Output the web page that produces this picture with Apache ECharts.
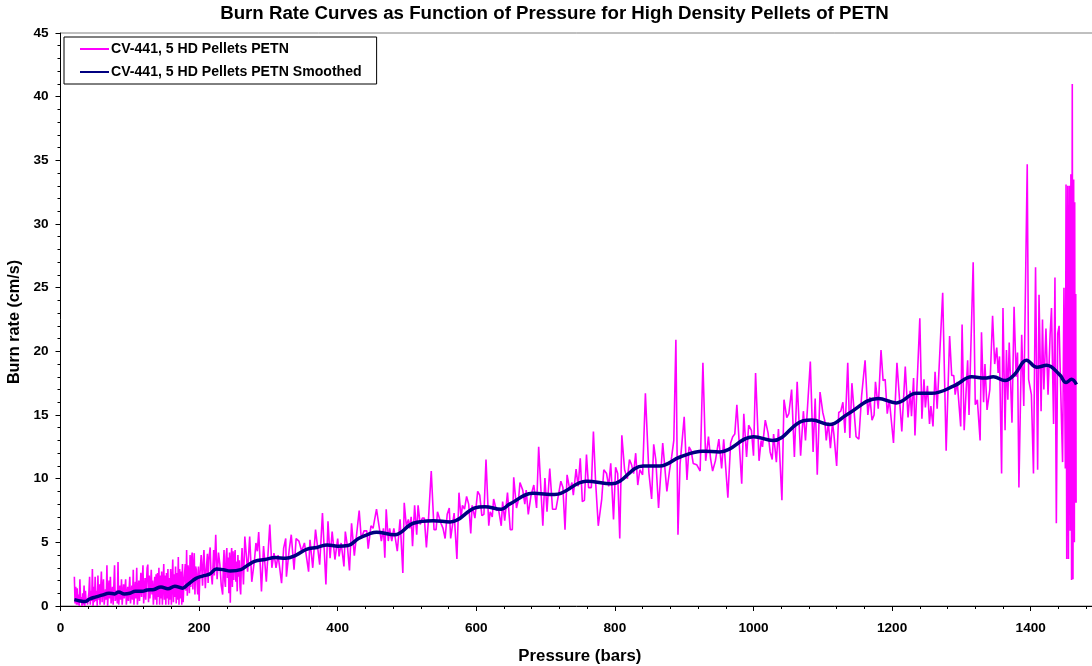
<!DOCTYPE html>
<html><head><meta charset="utf-8">
<style>html,body{margin:0;padding:0;background:#fff;overflow:hidden}#c{width:1092px;height:666px}</style>
<script src="https://cdn.jsdelivr.net/npm/echarts@6/dist/echarts.min.js"></script>
</head><body><div id="c"></div>
<script>
const chartTitle = "Burn Rate Curves as Function of Pressure for High Density Pellets of PETN";
const seriesNames = ["CV-441, 5 HD Pellets PETN", "CV-441, 5 HD Pellets PETN Smoothed"];
const rawDense = [[20,2.3],[21,.2],[22,1.5],[23,.1],[24,1.4],[25,.1],[26,.9],[27,0],[28,2.1],[29,.3],[30,.7],[31,0],[32,1],[33,.1],[34,1.6],[35,0],[36,1.2],[37,.3],[38,.6],[39,.1],[41,1.1],[42,2.3],[43,.1],[44,1.2],[45,.4],[46,2.9],[47,0],[48,1.5],[49,.3],[50,2.3],[51,.4],[52,1.2],[53,0],[54,2.4],[55,.5],[56,1.7],[57,.1],[59,2.7],[60,.3],[61,1.4],[62,2.1],[63,.1],[65,1.3],[66,.5],[67,3.2],[68,0],[70,2],[71,.6],[72,2.3],[73,.2],[75,1.5],[76,.1],[78,3.2],[79,.4],[81,1.2],[82,.2],[83,3.45],[84,.1],[86,1.6],[87,.5],[88,2.1],[89,.1],[91,1.7],[92,.6],[94,2.1],[95,.1],[97,1.5],[98,.4],[100,2.3],[101,.2],[103,1.6],[104,.5],[105,2.85],[106,.1],[108,1.9],[109,.6],[110,3],[111,.1],[113,2],[114,.4],[116,2.6],[117,.7],[119,3.2],[120,.2],[122,2.2],[123,.5],[125,3],[126,3.25],[127,.3],[128,2.4],[129,.6],[131,2.85],[132,.9],[133,2],[134,.1],[136,2.3],[137,.5],[138,2.5],[139,.1],[140,2.6],[141,.7],[142,3],[143,.1],[144,2.4],[145,.6],[146,2.7],[147,.1],[149,3.3],[150,.5],[151,2.4],[152,.1],[153,2.6],[154,.6],[155,2.9],[156,.1],[157,2.2],[158,.5],[159,2.9],[160,.1],[162,3.65],[163,.3],[164,2.5],[165,.7],[166,3.1],[167,.2],[168,2.6],[169,.5],[170,3.85],[171,.1],[172,2.9],[173,.6],[174,2.7],[175,.1],[176,3.3],[177,.3]];
const rawLow = [[178,1.7],[180,3.3],[181,1.2],[182,4.4],[183,.8],[184,3.2],[185,2.6],[186,1],[187,4],[188,1.5],[189,3.6],[190,4.2],[191,1.3],[192,3],[193,4.15],[194,.9],[195,3.1],[196,2.85],[198,.9],[199,3.1],[200,.4],[201,2.3],[203,4],[205,1.6],[206,3.4],[207,4.4],[209,1.4],[210,2.6],[212,4.1],[213,1.8],[214,3.6],[216,4.6],[217,2.85],[219,1.7],[221,4.4],[222,2.4],[224,5.6],[226,2.1],[228,4.2],[230,3.25],[232,1.6],[234,.9],[235,3.2],[236,4.4],[237,2],[238,1.5],[239,3.9],[240,4.55],[241,2.2],[242,3.8],[243,1],[244,4.2],[245,.25],[246,3.5],[247,4.55],[248,1.5],[249,4.3],[250,2.05],[251,3.8],[252,4.4],[253,1.9],[254,3.5],[255,1.15],[256,4],[257,2.3],[258,3.6],[259,1.5],[260,.9],[261,3.4],[262,4.55],[264,1.7],[266,5.45],[270,2.7],[273,5.45],[276,1.9],[280,3.65],[282,4.95],[284,4.3],[286,5.8],[290,1.15],[293,4.7],[297,1.9],[302,6.4],[305,3],[308,4.15],[311,3],[314,4],[319,1.8],[322,4.55],[325,5.3],[326,2.3],[330,4.4],[333,5.6],[337,2.85],[340,5.3],[344,5.1],[348,4.3],[352,4.95],[358,2.7],[360,5.2],[364,3],[368,6],[374,3.25],[378,7.3],[383,1.7],[386,6.65],[389,3.75],[392,5.85],[396,3.65],[400,5.3],[402,3.9],[405,4.95],[409,3.1],[411,5.85],[414,4.7],[417,2.8],[420,6.5],[424,3.95],[431,7.5]];
const rawMid = [[434,5.3],[438,5.9],[442,5.9],[444,4.5],[448,6.3],[451,6.1],[456,7.6],[459,6.5],[463,5.1],[466,6.1],[468,3.8],[470,7.6],[473,5.1],[475,6.1],[478,5.1],[481,6.1],[486,4.3],[490,6.8],[492,6.8],[494,2.6],[496,8.1],[499,6.3],[502,6.8],[504,6.1],[506,7],[508,4.7],[511,7.9],[514,5.6],[516,7.9],[519,6.4],[522,6.9],[525,6.9],[528,4.6],[531,6.8],[535,10.6],[539,6],[542,6],[544,7.4],[549,6.5],[552,6.1],[555,5.3],[558,7.2],[561,7.7],[563,5.3],[568,7.3],[572,3.7],[575,8.9],[578,6.9],[580,7.9],[583,7.6],[586,8.6],[589,8],[592,5.7],[594,7.9],[598,6.9],[602,9],[605,8.7],[608,7.1],[611,7.2],[614,11.5],[618,6.3],[620,7.4],[623,7],[625,8.4],[629,7.5],[632,7.6],[636,6.3],[638,8.2],[641,6.7],[645,8.9],[649,6],[652,6],[654,10.1],[658,7.7],[661,8.4],[663,9.7],[667,9.1],[670,8],[672,9.1],[675,7.2],[679,8.7],[683,9.5],[687,7.7],[690,12.5],[696,6.3],[699,10.05],[702,7.4],[706,10.8],[710,7.6],[712,7.7],[715,7.6],[722,9.8],[725,9.3],[728,6],[731,10.3],[735,9.1],[738,9.7],[740,8.7],[744,10.75],[747,9.4],[750,11.6],[753,8.2],[756,8.3],[759,11.9],[762,9.3],[766,9.3],[769,13.7],[772,9.9],[776,6.3],[781,8.4],[784,10.7],[788,10.4],[791,9.4],[794,11.2],[798,6.8],[801,10.9],[804,10.4],[807,5.3],[810,13.4],[814,10.7],[818,10],[821,11.5],[824,11.1],[827,10.4],[830,12],[833,9.5],[836,10.7],[840,10.3],[844,16.7],[849,10.5],[853,8.4],[856,12.7],[859,11.5],[863,7.7],[869,12.8],[875,9],[879,10.7],[882,11.75],[885,13],[888,20.9],[891,5.6],[894,11.1]];
const rawUpper = [[900,14.85],[904,9.9],[907,12.5],[910,12.2],[913,11.2],[918,11.1],[923,10.6],[927,19.1],[931,11.4],[935,13.3],[938,11.6],[941,10.6],[945,11.4],[947,11.5],[950,13.1],[954,10.8],[957,13.1],[963,8.5],[967,12.8],[970,13.3],[973,13.5],[976,15.8],[983,9.6],[986,15.1],[990,11.7],[993,14.2],[997,13.8],[1000,11.8],[1003,18.3],[1008,11.4],[1011,13],[1013,12.5],[1017,14.6],[1021,13.6],[1024,12.1],[1027,11.5],[1029,13.5],[1033,11.3],[1036,13.9],[1041,8.3],[1044,16.2],[1048,14.8],[1051,15.1],[1055,17],[1059,11.7],[1063,17.6],[1068,11.8],[1072,15.3],[1075,13],[1082,19.2],[1086,12.1],[1089,16.3],[1092,10.3],[1096,16.8],[1100,15.2],[1103,14.5],[1105,13],[1108,14.4],[1111,12.4],[1114,14.4],[1116,13.5],[1120,11],[1123,15.2],[1126,15.3],[1129,16],[1132,13.6],[1136,19.1],[1139,13.2],[1142,17.5],[1148,13.3],[1152,13.1],[1156,16.5],[1161,19.3],[1165,15],[1168,16.4],[1171,14.6],[1174,15],[1176,17.6],[1180,15.5],[1184,20.1],[1187,17.7],[1190,17.8],[1193,15.1],[1196,16.2]];
const rawHigh = [[1202,12.8],[1207,19.1],[1214,13.7],[1219,18.8],[1223,14.8],[1226,16.9],[1228,14.9],[1231,17.9],[1233,13.4],[1240,22.6],[1243,14.7],[1246,17.8],[1248,15.6],[1251,17.3],[1254,14.3],[1256,15.7],[1259,14.1],[1262,18.4],[1265,15.5],[1273,24.6],[1278,12.2],[1283,21.2],[1286,18.1],[1289,18.1],[1291,16.6],[1294,17.6],[1299,14.1],[1301,22.1],[1304,13.8],[1309,19.3],[1311,15],[1317,27],[1320,15.8],[1323,16.2],[1327,13],[1329,21.5],[1332,16],[1334,19],[1337,15.4],[1341,17],[1345,22.8],[1348,19],[1351,20.3],[1353,18.3],[1355,19.6],[1358,10.4],[1360,23.4],[1363,13.8],[1365,20.1],[1367,16.2],[1369,20.7],[1373,14.4],[1376,23.5],[1379,18],[1381,19.9],[1383,9.3],[1387,21.3],[1390,15.7],[1395,34.7],[1397,17.8],[1401,16.6],[1404,10.4],[1407,26.6],[1410,10.7],[1412,24.45],[1415,15.3],[1417,22.5],[1419,17],[1422,21.8],[1425,16.6],[1428,21.3],[1430,23.4],[1433,14.3],[1435,25.8],[1437,6.5],[1439,21.4],[1441,22],[1444,15.5],[1446,11.3],[1448,25],[1450,10.8],[1451,33.1],[1452,3.7],[1453.5,33],[1454.5,3.7],[1455,19],[1456,33],[1457,5.9],[1458,33.9],[1459,2.05],[1460,41],[1461,2.1],[1462,33.5],[1463,5],[1463.5,31.7],[1464,8.1],[1465,24.5],[1465.5,8.1]];
const smoothedCurve = [[20,.5],[28,.4],[36,.35],[42,.55],[50,.7],[60,.85],[70,1],[78,.95],[84,1.1],[92,.95],[100,1],[108,1.15],[118,1.15],[125,1.25],[135,1.3],[145,1.5],[155,1.35],[165,1.55],[176,1.4],[184,1.7],[195,2.15],[205,2.35],[215,2.5],[225,2.9],[235,2.85],[245,2.75],[260,2.85],[270,3.2],[280,3.5],[295,3.65],[310,3.8],[325,3.75],[340,4],[355,4.45],[370,4.6],[385,4.8],[400,4.7],[415,4.75],[430,5.3],[445,5.65],[456,5.8],[482,5.6],[509,6.5],[538,6.7],[562,6.6],[598,7.7],[612,7.8],[636,7.6],[648,8],[682,8.85],[713,8.75],[759,9.8],[795,9.6],[841,11],[865,11],[894,11.7],[927,12.15],[951,12.1],[1000,13.3],[1028,13],[1072,14.55],[1084,14.6],[1110,14.25],[1134,15],[1180,16.3],[1206,15.95],[1235,16.7],[1257,16.7],[1290,17.3],[1315,18],[1334,17.9],[1346,18],[1363,17.7],[1377,18.2],[1394,19.3],[1409,18.75],[1423,18.9],[1442,18.15],[1451,17.55],[1459,17.8],[1466,17.4]];
const rawCurve = [].concat(rawDense, rawLow, rawMid, rawUpper, rawHigh);

const font = '"Liberation Sans", Arial, sans-serif';
const chart = echarts.init(document.getElementById('c'), null, {renderer:'canvas'});
const axisCommon = {
  axisLine:{show:true,onZero:false,lineStyle:{color:'#000',width:1}},
  axisTick:{show:true,inside:false,length:5,lineStyle:{color:'#000',width:1}},
  minorTick:{show:true,splitNumber:5,length:3,lineStyle:{color:'#000',width:1}},
  splitLine:{show:false},minorSplitLine:{show:false},
  nameLocation:'middle'
};
const labelStyle = {color:'#000',fontFamily:font,fontWeight:'bold',fontSize:13.6};
const nameStyle = {color:'#000',fontFamily:font,fontWeight:'bold',fontSize:16.8};
chart.setOption({
  animation:false,
  backgroundColor:'#fff',
  title:{text:chartTitle,left:549.5,top:-1,textAlign:'center',textStyle:{color:'#000',fontFamily:font,fontWeight:'bold',fontSize:18.7}},
  grid:{left:60.5,top:33,width:1108.8,height:573,outerBoundsMode:'none',containLabel:false,show:true,borderColor:'#808080',borderWidth:1,backgroundColor:'transparent'},
  xAxis:Object.assign({},axisCommon,{type:'value',min:0,max:1600,interval:200,name:'Pressure (bars)',nameGap:42,
    nameTextStyle:Object.assign({},nameStyle,{padding:[0,70,0,0]}),
    axisLabel:Object.assign({},labelStyle,{showMaxLabel:false,margin:15,formatter:function(v){return String(v);}})}),
  yAxis:Object.assign({},axisCommon,{type:'value',min:0,max:45,interval:5,name:'Burn rate (cm/s)',nameGap:33,
    nameTextStyle:Object.assign({},nameStyle,{fontSize:16.2,padding:[0,5,0,0]}),
    axisLabel:Object.assign({},labelStyle,{margin:12})}),
  legend:{left:64,top:37,orient:'vertical',padding:[5,15,5,15],itemGap:9,itemWidth:29,itemHeight:16,
    backgroundColor:'#fff',borderColor:'#000',borderWidth:1,
    itemStyle:{opacity:0},
    textStyle:{color:'#000',fontFamily:font,fontWeight:'bold',fontSize:14.1,padding:[0,0,0,-3]},
    data:seriesNames},
  series:[
    {name:seriesNames[0],type:'line',data:rawCurve,showSymbol:false,symbol:'none',sampling:false,lineStyle:{color:'#FF00FF',width:1.6},itemStyle:{color:'#FF00FF'},z:2},
    {name:seriesNames[1],type:'line',data:smoothedCurve,showSymbol:false,symbol:'none',smooth:0.4,lineStyle:{color:'#000080',width:3.5},itemStyle:{color:'#000080'},z:3}
  ]
});
</script></body></html>
